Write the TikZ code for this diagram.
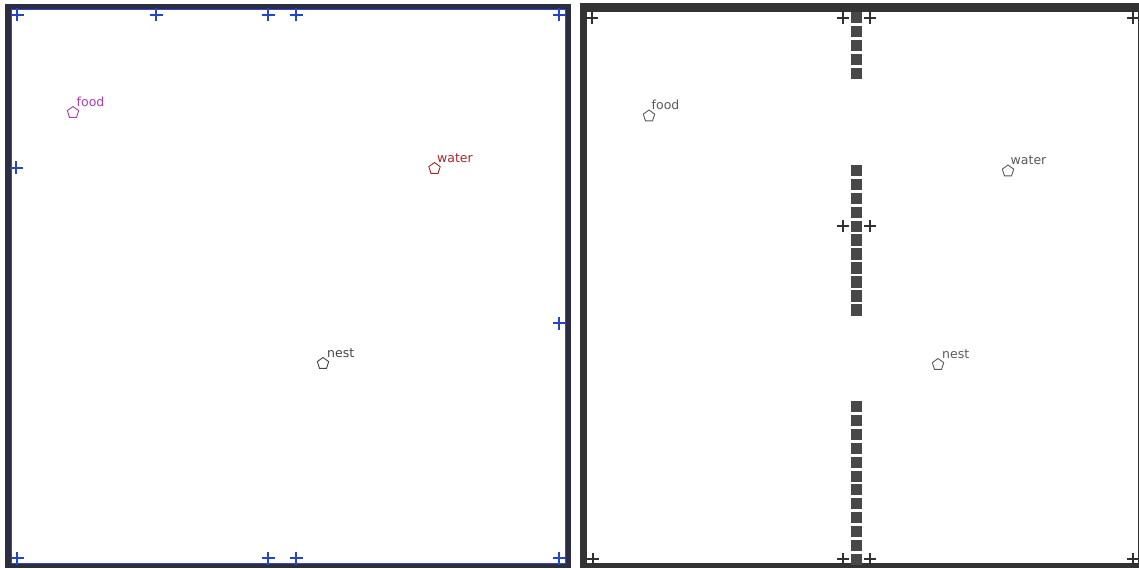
\documentclass[tikz,border=0pt]{standalone}
\usepackage{fontspec}
\setmainfont{DejaVu Sans}
\usetikzlibrary{shapes.geometric}
\definecolor{navyframe}{HTML}{2B2E42}
\definecolor{blueline}{HTML}{3347C8}
\definecolor{bluecross}{HTML}{2444CC}
\definecolor{grayframe}{HTML}{333333}
\definecolor{sqgray}{HTML}{484848}
\definecolor{crossgray}{HTML}{303030}
\definecolor{foodmag}{HTML}{B03CB4}
\definecolor{waterred}{HTML}{A0282C}
\definecolor{nestgray}{HTML}{444444}
\definecolor{lightlab}{HTML}{5A5A5A}
\tikzset{
  site/.style={regular polygon, regular polygon sides=5, draw, line width=0.9pt, minimum size=12pt, inner sep=0pt},
  sitelabel/.style={anchor=base west, inner sep=0pt, font=\fontsize{12.5}{14}\selectfont},
  bluemark/.style={draw=bluecross, line width=1.9pt},
  graymark/.style={draw=crossgray, line width=1.5pt},
  wallsq/.style={fill=sqgray, draw=none}
}
\begin{document}
\begin{tikzpicture}[x=1pt,y=-1pt]
\useasboundingbox (0,0) rectangle (1139,569);
\fill[white] (0,0) rectangle (1139,569);
% left panel frame
\fill[navyframe] (5,4) rectangle (571,568);
\fill[white] (11,9.5) rectangle (565.5,563);
\draw[blueline, line width=1pt] (11,9.5) rectangle (565.5,563);
% right panel frame
\fill[grayframe] (580,3) rectangle (1139,568);
\fill[white] (587,12) rectangle (1137.5,563);
% left crosses
\foreach \x/\y in {17/15,156/15,268/15,296/15,559/15,16/168,559/323,17/558,268/558,296/558,559/558}{
  \draw[bluemark] (\x-6.5,\y) -- (\x+6.5,\y) (\x,\y-6.5) -- (\x,\y+6.5);
}
% right wall squares
\foreach \i in {0,...,4}{ \fill[wallsq] (851,12.5+13.9*\i) rectangle (862,23.5+13.9*\i); }
\foreach \i in {0,...,10}{ \fill[wallsq] (851,165+13.9*\i) rectangle (862,176.5+13.9*\i); }
\foreach \i in {0,...,11}{ \fill[wallsq] (851,401+13.9*\i) rectangle (862,412+13.9*\i); }
% right crosses
\foreach \x/\y in {592/18,843/18,870/18,1133/18,843/226,870/226,593/559,843/559,870/559,1133/559}{
  \draw[graymark] (\x-6,\y) -- (\x+6,\y) (\x,\y-6) -- (\x,\y+6);
}
% left sites
\node[site, draw=foodmag] (foodL) at (73,112.5) {};
\node[sitelabel, text=foodmag] (foodLlab) at (76.5,107) {food};
\node[site, draw=waterred] (waterL) at (434.5,168.5) {};
\node[sitelabel, text=waterred] (waterLlab) at (437,162.5) {water};
\node[site, draw=nestgray] (nestL) at (323,363.5) {};
\node[sitelabel, text=nestgray] (nestLlab) at (327,357) {nest};
% right sites
\node[site, draw=lightlab] (foodR) at (649,116) {};
\node[sitelabel, text=lightlab] (foodRlab) at (651.5,109.5) {food};
\node[site, draw=lightlab] (waterR) at (1008,171) {};
\node[sitelabel, text=lightlab] (waterRlab) at (1010.5,164.5) {water};
\node[site, draw=lightlab] (nestR) at (938,364.5) {};
\node[sitelabel, text=lightlab] (nestRlab) at (942,358) {nest};
\end{tikzpicture}
\end{document}
